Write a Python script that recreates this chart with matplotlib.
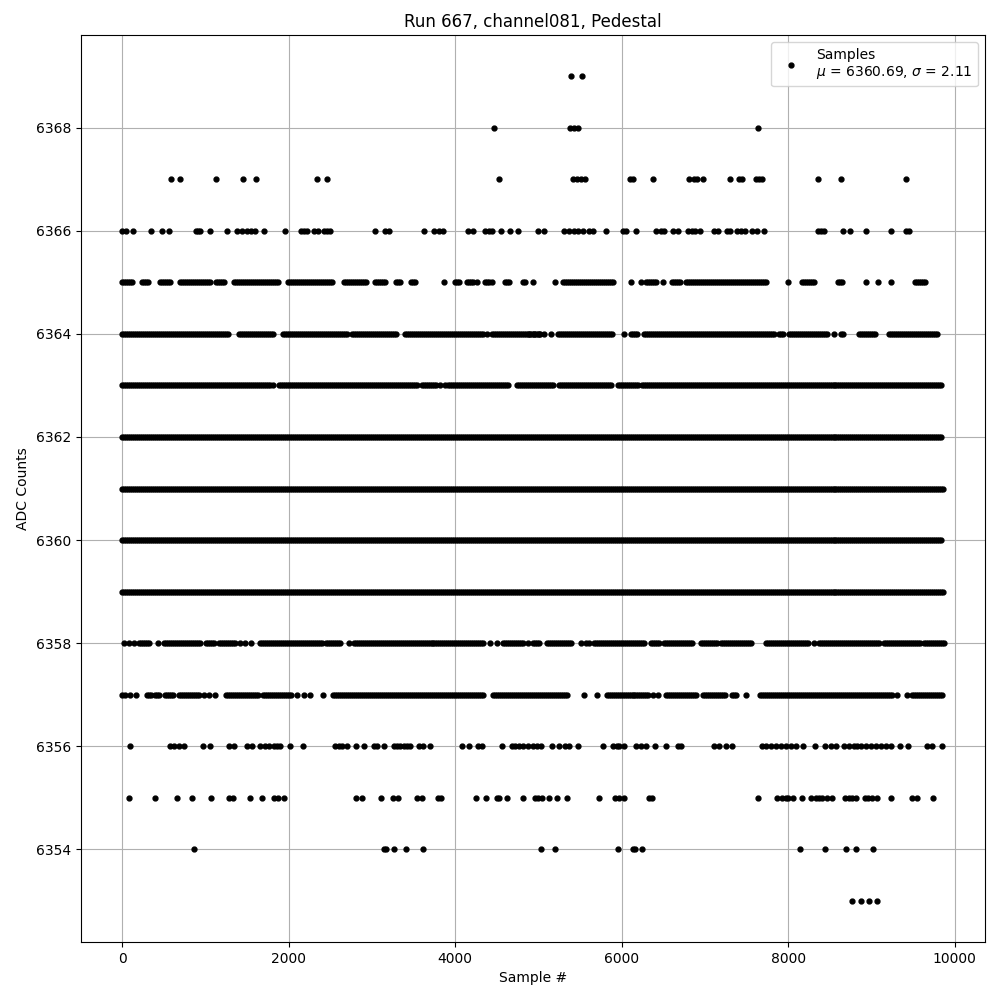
import numpy as np
import matplotlib
matplotlib.use("Agg")
import matplotlib.pyplot as plt

# ADC pedestal samples per ADC level.
# sparse levels: sample numbers of the single dots
lvl_6369 = [5386, 5518]
lvl_6368 = [4472, 5378, 5430, 5474, 7642]
lvl_6367 = [584, 692, 1124, 1448, 1604, 2336, 2456, 4532, 5410, 5462, 5510, 5562,
            6098, 6130, 6382, 6810, 6870, 6910, 6978, 7306, 7410, 7450, 7610, 7650,
            7682, 8362, 8638, 9418]
lvl_6366 = [0, 52, 128, 344, 476, 560, 888, 912, 940, 1052, 1256, 1376, 1440, 1500,
            1548, 1596, 1700, 1952, 2152, 2180, 2220, 2300, 2348, 2420, 2460, 2500,
            3036, 3160, 3204, 3620, 3752, 3812, 3852, 4156, 4212, 4360, 4412, 4440,
            4548, 4664, 4760, 4996, 5070, 5302, 5370, 5430, 5470, 5538, 5610, 5658,
            5806, 6010, 6050, 6178, 6410, 6470, 6510, 6618, 6674, 6802, 6842, 6878,
            6946, 7110, 7162, 7262, 7302, 7390, 7430, 7478, 7562, 7630, 7714, 8354,
            8394, 8434, 8662, 8746, 8938, 9238, 9410, 9450]
lvl_6356 = [92, 580, 628, 680, 740, 972, 1060, 1280, 1340, 1500, 1560, 1660, 1720,
            1760, 1820, 1860, 1900, 2012, 2168, 2560, 2600, 2640, 2700, 2808, 2900,
            3028, 3060, 3140, 3260, 3300, 3340, 3380, 3420, 3460, 3568, 3612, 3700,
            4088, 4172, 4280, 4320, 4568, 4680, 4720, 4772, 4820, 4880, 4932, 4980,
            5030, 5162, 5242, 5322, 5370, 5470, 5778, 5898, 5938, 5970, 6030, 6170,
            6230, 6290, 6398, 6538, 6678, 6718, 7110, 7170, 7250, 7330, 7690, 7738,
            7790, 7850, 7910, 7970, 8030, 8090, 8178, 8322, 8442, 8510, 8570, 8670,
            8730, 8790, 8830, 8870, 8930, 8990, 9050, 9110, 9170, 9230, 9342, 9438,
            9670, 9730, 9842]
lvl_6355 = [80, 392, 660, 836, 1064, 1280, 1332, 1540, 1684, 1828, 1868, 1940, 2808,
            2880, 3104, 3252, 3312, 3536, 3600, 3800, 3828, 4256, 4376, 4500, 4532,
            4624, 4812, 4960, 5000, 5042, 5122, 5218, 5338, 5722, 5922, 5962, 6022,
            6330, 6362, 7642, 7870, 7922, 7970, 8002, 8062, 8170, 8270, 8330, 8370,
            8410, 8462, 8530, 8682, 8730, 8770, 8810, 8922, 8962, 9010, 9070, 9238,
            9490, 9550, 9742]
lvl_6354 = [860, 3140, 3172, 3260, 3404, 3608, 5030, 5194, 5950, 6130, 6162, 6242,
            8146, 8446, 8698, 8818, 9022]
lvl_6353 = [8770, 8870, 8970, 9070]

# busy levels: runs of samples (start, end) where the level is filled
runs_6365 = [(0, 120), (240, 330), (450, 580), (700, 1060), (1130, 1230), (1350, 1900),
             (1990, 2520), (2660, 2930), (3040, 3160), (3290, 3360), (3470, 3540),
             (3870, 3870), (4000, 4070), (4140, 4230), (4260, 4260), (4360, 4420),
             (4440, 4440), (4600, 4650), (4820, 4860), (4930, 4930), (5200, 5200),
             (5290, 5890), (6110, 6110), (6230, 6230), (6290, 6410), (6500, 6510),
             (6610, 6710), (6770, 7730), (8000, 8000), (8170, 8330), (8600, 8650),
             (8930, 8930), (9080, 9080), (9240, 9240), (9520, 9640)]
runs_6364 = [(0, 1290), (1410, 1840), (1930, 2700), (2760, 3300), (3400, 4340),
             (4380, 4380), (4440, 5020), (4890, 4910), (4950, 4950), (5010, 5010),
             (5070, 5070), (5150, 5150), (5230, 5890), (6030, 6030), (6110, 6190),
             (6270, 7830), (7890, 7950), (8010, 8470), (8550, 8550), (8630, 8670),
             (8850, 9050), (9210, 9790)]
runs_6363 = [(0, 1780), (1812, 1812), (1880, 3540), (3600, 3780), (3820, 3820),
             (3880, 3880), (3920, 4660), (4740, 5190), (5250, 5880), (5960, 6200),
             (6240, 9860)]
runs_6362 = [(0, 9860)]
runs_6361 = [(0, 9870)]
runs_6360 = [(0, 9860)]
runs_6359 = [(0, 9870)]
runs_6358 = [(20, 20), (80, 80), (140, 140), (200, 340), (428, 428), (500, 940),
             (1012, 1120), (1160, 1360), (1420, 1420), (1480, 1480), (1548, 1548),
             (1652, 2400), (2452, 2640), (2720, 2720), (2780, 4340), (4420, 4420),
             (4500, 4500), (4580, 4820), (4880, 4880), (4940, 5020), (5098, 5390),
             (5510, 5510), (5570, 5570), (5610, 5610), (5670, 6290), (6350, 6450),
             (6510, 6850), (6950, 7150), (7190, 7570), (7738, 8250), (8310, 8310),
             (8370, 9090), (9150, 9590), (9630, 9870)]
runs_6357 = [(0, 0), (40, 40), (92, 92), (172, 172), (300, 360), (400, 460),
             (520, 620), (680, 940), (988, 988), (1040, 1040), (1120, 1120),
             (1252, 1640), (1692, 2028), (2100, 2100), (2188, 2188), (2260, 2260),
             (2412, 2412), (2532, 4340), (4460, 5370), (5542, 5542), (5702, 5702),
             (5818, 6330), (6378, 6378), (6442, 6442), (6530, 6890), (6978, 7250),
             (7330, 7390), (7498, 7498), (7658, 9250), (9302, 9302), (9422, 9422),
             (9490, 9870)]

mu, sigma = 6360.69, 2.11


def expand(runs, step=24):
    pts = []
    for a, b in runs:
        pts.extend(np.arange(a, b + 1, step))
    return pts


single = {6369: lvl_6369, 6368: lvl_6368, 6367: lvl_6367, 6366: lvl_6366,
          6356: lvl_6356, 6355: lvl_6355, 6354: lvl_6354, 6353: lvl_6353}
dense = {6365: runs_6365, 6364: runs_6364, 6363: runs_6363, 6362: runs_6362,
         6361: runs_6361, 6360: runs_6360, 6359: runs_6359, 6358: runs_6358,
         6357: runs_6357}

xs, ys = [], []
for lvl, pts in single.items():
    xs += list(pts)
    ys += [lvl] * len(pts)
for lvl, runs in dense.items():
    pts = expand(runs)
    xs += list(pts)
    ys += [lvl] * len(pts)

fig, ax = plt.subplots(figsize=(10, 10), dpi=100)
ax.plot(xs, ys, 'k.', ms=7,
        label="Samples\n$\\mu$ = %.2f, $\\sigma$ = %.2f" % (mu, sigma))
ax.set_title("Run 667, channel081, Pedestal")
ax.set_xlabel("Sample #")
ax.set_ylabel("ADC Counts")
ax.grid(True)
ax.legend(loc="upper right")
fig.subplots_adjust(left=0.081, right=0.985, top=0.965, bottom=0.058)
fig.savefig("out.png")
